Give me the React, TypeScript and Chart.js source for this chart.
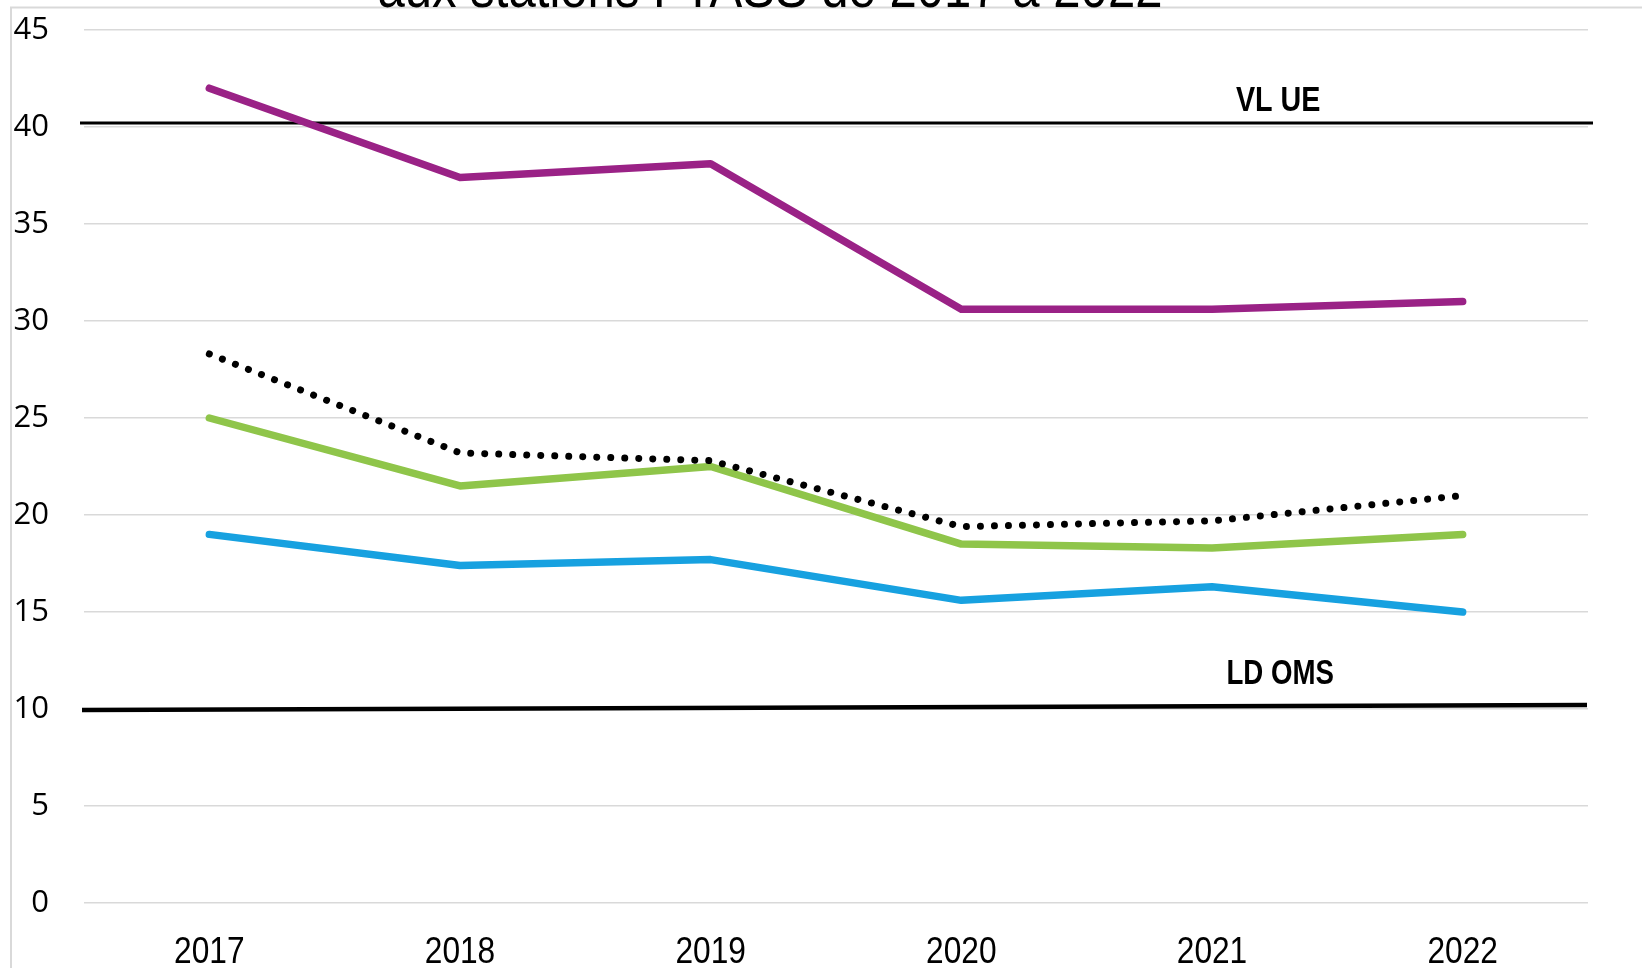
import React, { useEffect, useRef } from "react";
import { Chart, registerables } from "chart.js";

Chart.register(...registerables);

// ---- data ----
const years = ["2017", "2018", "2019", "2020", "2021", "2022"];
const purpleSeries = [42.0, 37.4, 38.1, 30.6, 30.6, 31.0];
const dottedSeries = [28.3, 23.2, 22.8, 19.4, 19.7, 21.0];
const greenSeries = [25.0, 21.5, 22.5, 18.5, 18.3, 19.0];
const blueSeries = [19.0, 17.4, 17.7, 15.6, 16.3, 15.0];
const yMin = 0;
const yMax = 45;
const yStep = 5;
const vlUeLabel = "VL UE";
const vlUeValues = [40.2, 40.2];
const ldOmsLabel = "LD OMS";
const ldOmsValues = [9.95, 10.2];
const titleText = "aux stations FTASS de 2017 à 2022";

const SANS = "'Liberation Sans', Arial, sans-serif";

function narrowText(ctx: any, text: string, x: number, y: number, sx: number) {
  ctx.save();
  ctx.translate(x, y);
  ctx.scale(sx, 1);
  ctx.fillText(text, 0, 0);
  ctx.restore();
}

const framePlugin = {
  id: "frame",
  beforeDraw(chart: any) {
    const ctx = chart.ctx;
    ctx.save();
    ctx.fillStyle = "#ffffff";
    ctx.fillRect(0, 0, chart.width, chart.height);
    ctx.strokeStyle = "#d9d9d9";
    ctx.lineWidth = 2;
    ctx.beginPath();
    ctx.moveTo(11, chart.height);
    ctx.lineTo(11, 7.5);
    ctx.lineTo(chart.width, 7.5);
    ctx.stroke();
    // title (cut off at top)
    ctx.fillStyle = "#000000";
    ctx.textAlign = "center";
    ctx.textBaseline = "alphabetic";
    const sx = 0.85;
    let size = 60;
    ctx.font = `${size}px ${SANS}`;
    const w = ctx.measureText(titleText).width * sx;
    size = size * (785 / w);
    ctx.font = `${size}px ${SANS}`;
    narrowText(ctx, titleText, 770, 7, sx);
    ctx.restore();
  },
};

const xLabelsPlugin = {
  id: "xLabels",
  afterDraw(chart: any) {
    const { ctx, chartArea } = chart;
    const xs = chart.scales.x;
    ctx.save();
    ctx.fillStyle = "#000000";
    ctx.textAlign = "center";
    ctx.textBaseline = "middle";
    ctx.font = `36px ${SANS}`;
    years.forEach((lab, i) => {
      narrowText(ctx, lab, xs.getPixelForTick(i), chartArea.bottom + 50, 0.88);
    });
    ctx.restore();
  },
};

const refLinesPlugin = {
  id: "refLines",
  beforeDatasetsDraw(chart: any) {
    const { ctx, chartArea } = chart;
    const y = chart.scales.y;
    ctx.save();
    ctx.strokeStyle = "#000000";
    ctx.lineCap = "butt";
    // VL UE
    ctx.lineWidth = 3;
    ctx.beginPath();
    ctx.moveTo(chartArea.left - 4, y.getPixelForValue(vlUeValues[0]));
    ctx.lineTo(chartArea.right + 5, y.getPixelForValue(vlUeValues[1]));
    ctx.stroke();
    // LD OMS
    ctx.lineWidth = 4.5;
    ctx.beginPath();
    ctx.moveTo(chartArea.left - 2, y.getPixelForValue(ldOmsValues[0]));
    ctx.lineTo(chartArea.right - 1, y.getPixelForValue(ldOmsValues[1]));
    ctx.stroke();
    // labels
    ctx.fillStyle = "#000000";
    ctx.textAlign = "center";
    ctx.textBaseline = "middle";
    ctx.font = `bold 35px ${SANS}`;
    const lx = chartArea.left + 0.794 * (chartArea.right - chartArea.left);
    narrowText(ctx, vlUeLabel, lx, y.getPixelForValue(vlUeValues[0]) - 22, 0.82);
    narrowText(ctx, ldOmsLabel, lx + 2, y.getPixelForValue(ldOmsValues[1]) - 31, 0.79);
    ctx.restore();
  },
};

export default function App() {
  const ref = useRef<HTMLCanvasElement | null>(null);

  useEffect(() => {
    document.body.style.margin = "0";
    const canvas = ref.current;
    if (!canvas) return;
    const common = {
      pointRadius: 0,
      pointHoverRadius: 0,
      tension: 0,
      fill: false,
      borderCapStyle: "round" as const,
      borderJoinStyle: "round" as const,
    };
    const chart = new Chart(canvas, {
      type: "line",
      data: {
        labels: years,
        datasets: [
          { ...common, label: "purple", data: purpleSeries, borderColor: "#9a2286", borderWidth: 7.5 },
          {
            ...common,
            label: "dotted",
            data: dottedSeries,
            borderColor: "#000000",
            borderWidth: 7,
            borderDash: [0.01, 14],
          },
          { ...common, label: "green", data: greenSeries, borderColor: "#8fc54a", borderWidth: 7.5 },
          { ...common, label: "blue", data: blueSeries, borderColor: "#17a1e0", borderWidth: 7.5 },
        ],
      },
      options: {
        responsive: false,
        animation: false,
        events: [],
        layout: { autoPadding: false, padding: { top: 30, left: 0, right: 54, bottom: 0 } },
        plugins: {
          legend: { display: false },
          title: { display: false },
          tooltip: { enabled: false },
        },
        scales: {
          x: {
            offset: true,
            grid: { display: false, drawTicks: false },
            border: { display: false },
            ticks: { display: false },
            afterFit(scale: any) {
              scale.height = 65;
              scale.paddingLeft = 0;
              scale.paddingRight = 0;
            },
          },
          y: {
            min: yMin,
            max: yMax,
            ticks: {
              stepSize: yStep,
              color: "#000000",
              font: { family: "'Open Sans', sans-serif", size: 31 },
              padding: 35,
            },
            grid: { color: "#d9d9d9", lineWidth: 1.5, drawTicks: false },
            border: { display: false },
            afterFit(scale: any) {
              scale.width = 84;
              scale.paddingTop = 0;
              scale.paddingBottom = 0;
            },
          },
        },
      },
      plugins: [framePlugin, refLinesPlugin, xLabelsPlugin],
    });
    return () => chart.destroy();
  }, []);

  return <canvas ref={ref} width={1642} height={968} style={{ display: "block" }} />;
}
